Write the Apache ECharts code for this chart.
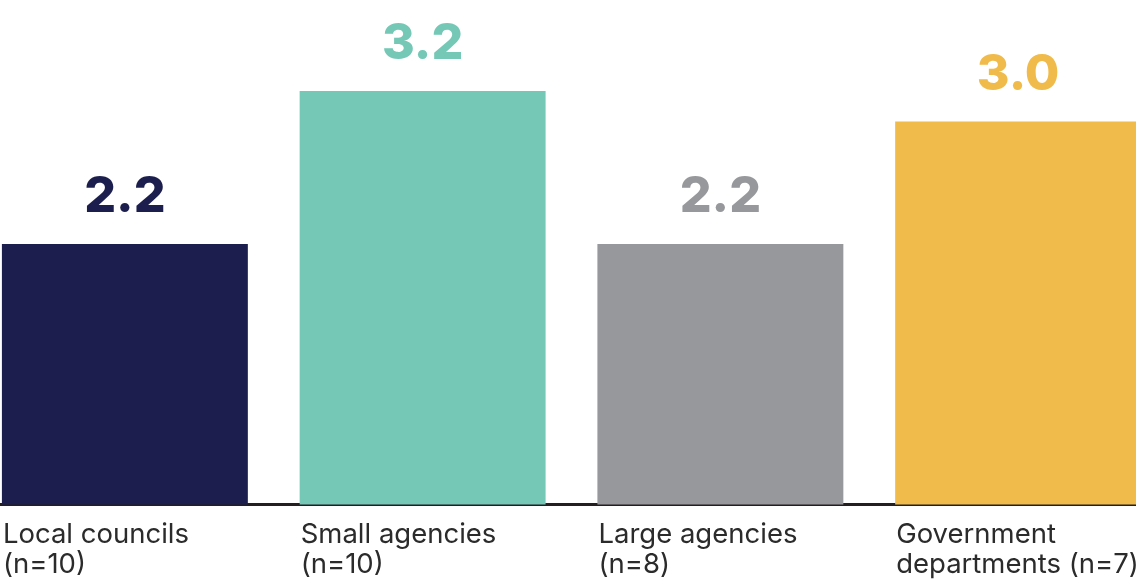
<!DOCTYPE html>
<html>
<head>
<meta charset="utf-8">
<script src="https://cdn.jsdelivr.net/npm/echarts@6/dist/echarts.min.js"></script>
<style>
  html, body { margin: 0; padding: 0; background: #ffffff; }
  #chart { width: 1136px; height: 585px; }
</style>
</head>
<body>
<div id="chart"></div>
<script>
// Average score by organisation type
const categories = [
  'Local councils\n(n=10)',
  'Small agencies\n(n=10)',
  'Large agencies\n(n=8)',
  'Government\ndepartments (n=7)'
];
const values = [2.2, 3.2, 2.2, 3.0];
const barColors = ['#1c1f4d', '#74c8b5', '#97989b', '#f0bb4a'];

const chart = echarts.init(document.getElementById('chart'));

chart.setOption({
  animation: false,
  backgroundColor: '#ffffff',
  grid: {
    left: -24, right: -31, top: 45, bottom: 80.5,
    containLabel: false,
    outerBoundsMode: 'none'
  },
  xAxis: {
    type: 'category',
    data: categories,
    axisLine: { show: true, lineStyle: { color: '#231f20', width: 3 } },
    axisTick: { show: false },
    axisLabel: { show: false }
  },
  yAxis: {
    type: 'value',
    min: 0.5,
    max: 3.5,
    show: false,
    splitLine: { show: false }
  },
  series: [
    {
      type: 'bar',
      data: values.map((v, i) => ({ value: v, itemStyle: { color: barColors[i] } })),
      barCategoryGap: '17.4%',
      label: {
        show: true,
        position: 'top',
        distance: 22,
        formatter: p => p.value.toFixed(1),
        fontFamily: 'Inter',
        fontWeight: 800,
        fontSize: 50,
        color: 'inherit'
      },
      z: 2
    },
    {
      // transparent twin bars carrying the category names below the baseline
      type: 'bar',
      data: values,
      barGap: '-100%',
      barCategoryGap: '17.4%',
      itemStyle: { color: 'rgba(0,0,0,0)' },
      silent: true,
      label: {
        show: true,
        position: 'insideBottomLeft',
        distance: 0,
        offset: [1, 15],
        align: 'left',
        verticalAlign: 'top',
        formatter: p => categories[p.dataIndex],
        fontFamily: 'Inter',
        fontSize: 27.5,
        lineHeight: 30,
        color: '#2b2b2b'
      },
      z: 3
    }
  ]
});
</script>
</body>
</html>
